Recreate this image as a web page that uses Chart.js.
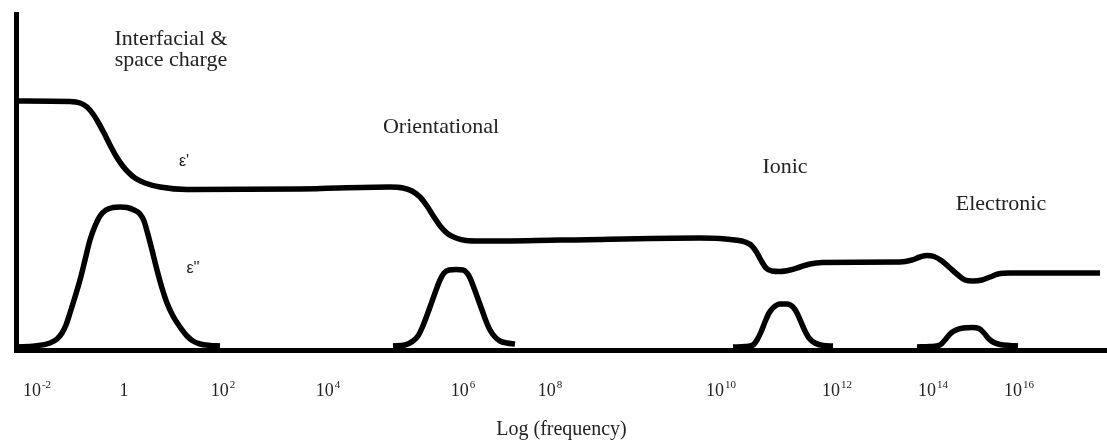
<!DOCTYPE html>
<html lang="en">

<head>
    <meta charset="UTF-8">
    <title>Dielectric dispersion</title>
    <script src="https://cdn.jsdelivr.net/npm/chart.js@4.4.1/dist/chart.umd.min.js"></script>
    <style>
        body { margin: 0; background: #fff; }
    </style>
</head>

<body>
    <canvas id="mychart" width="1107" height="442"></canvas>

    <script>
        // schematic axis: x = position along log(frequency), y = relative height above the axis
        const tickPos = [37, 124, 223, 328, 463, 550, 721, 837, 933, 1019];
        const tickBase = ['10', '1', '10', '10', '10', '10', '10', '10', '10', '10'];
        const tickExp = ['-2', '', '2', '4', '6', '8', '10', '12', '14', '16'];

        // ε' (real part)
        const epsRealX = [16, 70, 80, 87, 93, 98, 104, 110, 116, 122, 128, 135, 145, 160, 187, 300,
            390, 403, 412, 420, 427, 434, 441, 448, 456, 466, 480, 560,
            700, 720, 735, 745, 752, 757, 762, 766, 772, 780, 790, 800, 810, 822, 900,
            912, 920, 927, 934, 942, 950, 958, 965, 973, 982, 990, 998, 1010, 1100];
        const epsRealY = [249, 248.5, 247, 243, 236, 228, 217, 205, 194, 185, 178, 172, 167, 163, 160.5, 161,
            163, 162, 159, 153, 144, 133, 123, 116, 112, 109.5, 109, 110,
            112, 111.5, 110, 108, 104, 97, 88, 82, 79, 78.5, 80, 83, 86, 87.5, 88,
            90, 93, 94.5, 93.5, 89, 82, 75, 70, 69, 70, 73, 76, 77, 77];

        // ε'' (loss peaks), null = gap between peaks
        const epsImagX = [16, 35, 50, 57, 62, 66, 70, 75, 80, 85, 90, 95, 100, 106, 113, 120, 127, 134, 140, 144,
            147, 152, 157, 162, 167, 173, 180, 187, 193, 200, 210, 220, 221,
            393, 405, 413, 418, 422, 426, 430, 435, 440, 444, 449, 456, 463, 467, 470, 474, 478, 482, 486, 490,
            495, 500, 507, 515, 516,
            733, 745, 753, 757, 761, 765, 769, 774, 780, 787, 793, 797, 801, 805, 809, 815, 823, 833, 834,
            917, 930, 940, 945, 950, 956, 963, 972, 979, 984, 988, 993, 1000, 1010, 1018];
        const epsImagY = [3, 4, 7, 11, 17, 25, 37, 53, 70, 90, 110, 124, 134, 140, 142.5, 143, 142.5, 140, 136, 129,
            119, 100, 80, 62, 47, 34, 23, 14, 9, 6, 4.5, 4, null,
            4, 5, 9, 14, 22, 32, 43, 57, 70, 77, 80, 80.5, 80, 77, 72, 62, 51, 40, 29, 20,
            13, 9, 7, 6, null,
            3, 3.5, 5, 10, 18, 28, 37, 43, 46, 46, 43, 37, 28, 19, 12, 7, 4.5, 4, null,
            3, 3.5, 5, 10, 16, 20, 22, 22.5, 21.5, 17, 12, 8, 5.5, 4.5, 4];

        const notes = [
            { text: 'Interfacial &', x: 171, y: 305, font: '22px "Liberation Serif"' },
            { text: 'space charge', x: 171, y: 284, font: '22px "Liberation Serif"' },
            { text: 'Orientational', x: 441, y: 217, font: '22px "Liberation Serif"' },
            { text: 'Ionic', x: 785, y: 177, font: '22px "Liberation Serif"' },
            { text: 'Electronic', x: 1001, y: 140, font: '22px "Liberation Serif"' },
            { text: "ε'", x: 184, y: 184, font: '16px "Liberation Sans"' },
            { text: "ε''", x: 193, y: 77, font: '16px "Liberation Sans"' }
        ];

        const toPoints = (xs, ys) => xs.map((x, i) => ({ x: x, y: ys[i] }));

        const labelPlugin = {
            id: 'labels',
            afterDraw(chart) {
                const c = chart.ctx;
                const xs = chart.scales.x;
                const ys = chart.scales.y;
                c.save();
                c.fillStyle = '#222';
                c.textBaseline = 'alphabetic';
                c.textAlign = 'left';
                for (let i = 0; i < tickPos.length; i++) {
                    c.font = '18px "Liberation Serif"';
                    const w1 = c.measureText(tickBase[i]).width;
                    c.font = '11px "Liberation Serif"';
                    const w2 = tickExp[i] ? c.measureText(tickExp[i]).width + 1 : 0;
                    const px = xs.getPixelForValue(tickPos[i]) - (w1 + w2) / 2;
                    const py = xs.top + 46;
                    c.font = '18px "Liberation Serif"';
                    c.fillText(tickBase[i], px, py);
                    c.font = '11px "Liberation Serif"';
                    c.fillText(tickExp[i], px + w1 + 1, py - 8);
                }
                c.textAlign = 'center';
                notes.forEach(n => {
                    c.font = n.font;
                    c.fillText(n.text, xs.getPixelForValue(n.x), ys.getPixelForValue(n.y));
                });
                c.restore();
            }
        };

        var ctx = document.getElementById('mychart');
        var mychart = new Chart(ctx, {
            type: 'line',
            data: {
                datasets: [{
                    label: "ε'",
                    data: toPoints(epsRealX, epsRealY),
                    borderColor: '#000',
                    borderWidth: 5.5,
                    pointRadius: 0,
                    cubicInterpolationMode: 'monotone',
                    borderJoinStyle: 'round',
                }, {
                    label: "ε''",
                    data: toPoints(epsImagX, epsImagY),
                    borderColor: '#000',
                    borderWidth: 5.5,
                    pointRadius: 0,
                    spanGaps: false,
                    cubicInterpolationMode: 'monotone',
                    borderJoinStyle: 'round',
                }],
            },
            options: {
                responsive: false,
                animation: false,
                devicePixelRatio: 1,
                layout: { padding: { left: 16, top: 14, right: 0, bottom: 0 } },
                plugins: {
                    legend: { display: false },
                    tooltip: { enabled: false },
                },
                scales: {
                    x: {
                        type: 'linear',
                        min: 16,
                        max: 1107,
                        grid: { display: false },
                        ticks: { display: false },
                        border: { display: true, color: '#000', width: 5 },
                        title: {
                            display: true,
                            text: 'Log (frequency)',
                            color: '#222',
                            font: { family: 'Liberation Serif', size: 20 },
                            padding: { top: 0, bottom: 0 },
                        },
                        afterFit: s => { s.height = 92; },
                    },
                    y: {
                        min: 0,
                        max: 336,
                        grid: { display: false },
                        ticks: { display: false },
                        border: { display: true, color: '#000', width: 5 },
                        afterFit: s => { s.width = 0; },
                    }
                }
            },
            plugins: [labelPlugin]
        });
    </script>
</body>

</html>
